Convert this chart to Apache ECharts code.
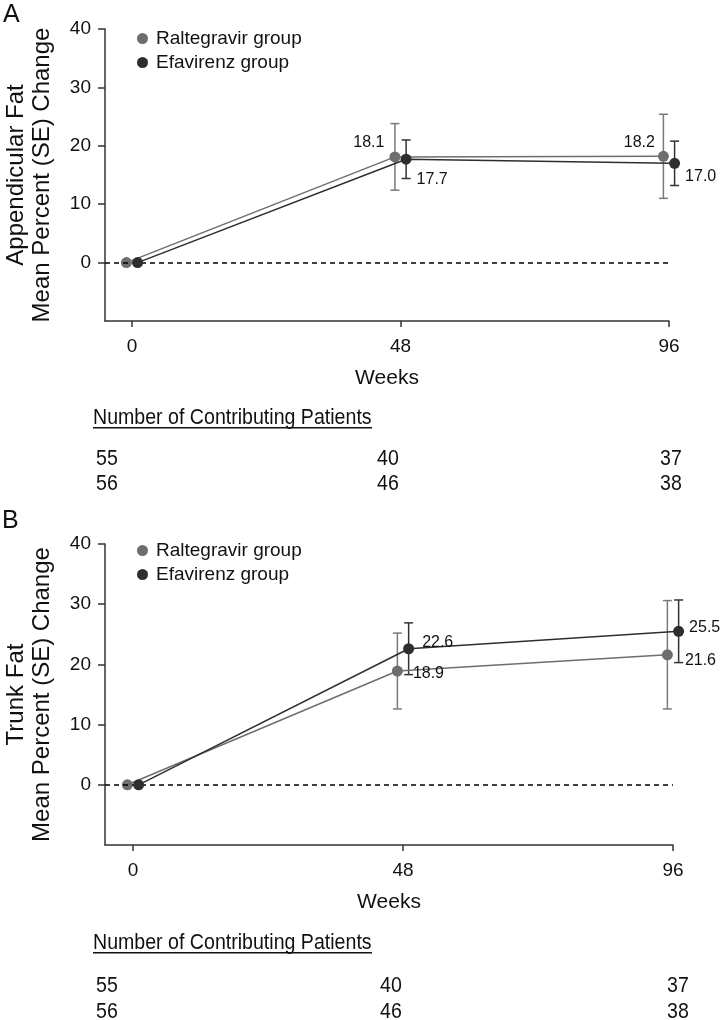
<!DOCTYPE html>
<html><head><meta charset="utf-8">
<script src="https://cdn.jsdelivr.net/npm/echarts@6/dist/echarts.min.js"></script>
<style>html,body{margin:0;padding:0;background:#fff}#c{width:720px;height:1020px}</style>
</head><body><div id="c"></div>
<script>
// ---- data ----
const weeks = [0, 48, 96];
const xTickValues = [0, 48, 96];
const yTickValues = [0, 10, 20, 30, 40];
const seriesNames = ['Raltegravir group', 'Efavirenz group'];
// Panel A: Appendicular fat
const ralA = [0, 18.1, 18.2];
const ralAse = [0, 5.7, 7.2];
const efaA = [0, 17.7, 17.0];
const efaAse = [0, 3.3, 3.8];
// Panel B: Trunk fat
const ralB = [0, 18.9, 21.6];
const ralBse = [0, 6.3, 9.0];
const efaB = [0, 22.6, 25.5];
const efaBse = [0, 4.3, 5.2];
// Number of contributing patients
const nRalA = [55, 40, 37];
const nEfaA = [56, 46, 38];
const nRalB = [55, 40, 37];
const nEfaB = [56, 46, 38];
const tableTitle = 'Number of Contributing Patients';

// ---- style ----
const FONT = '"Liberation Sans", Arial, sans-serif';
const RAL = '#6e6e6e', EFA = '#2e2e2e';
const dodge = 1.0;

// label placements per point (style only)
const lblRalA = [null, {position:'left', distance:5, offset:[0,-14]}, {position:'left', distance:3, offset:[0,-14]}];
const lblEfaA = [null, {position:'right', distance:5, offset:[0,20]}, {position:'right', distance:5, offset:[0,13]}];
const lblRalB = [null, {position:'right', distance:10, offset:[0,3]}, {position:'right', distance:12, offset:[0,6]}];
const lblEfaB = [null, {position:'right', distance:8, offset:[0,-6]}, {position:'right', distance:5, offset:[0,-4]}];

function pts(vals, d, lbls) {
  return vals.map((v, i) => {
    const item = {value: [weeks[i] + d, v]};
    if (lbls[i]) item.label = Object.assign({show: true, formatter: v.toFixed(1)}, lbls[i]);
    return item;
  });
}
function errs(vals, se, d) {
  return vals.map((v, i) => [weeks[i] + d, v - se[i], v + se[i]]).filter((e, i) => se[i] > 0);
}
function errSeries(name, data, color, idx) {
  return {
    type: 'custom', name: name, xAxisIndex: idx, yAxisIndex: idx, z: 3, silent: true, clip: false,
    renderItem: function (params, api) {
      const lo = api.coord([api.value(0), api.value(1)]);
      const hi = api.coord([api.value(0), api.value(2)]);
      const w = 4.5;
      const st = {stroke: color, lineWidth: 1.5};
      return {type: 'group', children: [
        {type: 'line', shape: {x1: lo[0], y1: lo[1], x2: hi[0], y2: hi[1]}, style: st},
        {type: 'line', shape: {x1: lo[0] - w, y1: lo[1], x2: lo[0] + w, y2: lo[1]}, style: st},
        {type: 'line', shape: {x1: hi[0] - w, y1: hi[1], x2: hi[0] + w, y2: hi[1]}, style: st}
      ]};
    },
    data: data
  };
}
function lineSeries(name, data, color, idx, z, withZero) {
  const s = {
    type: 'line', name: name, xAxisIndex: idx, yAxisIndex: idx, z: z, clip: false,
    symbol: 'circle', symbolSize: 11, data: data,
    itemStyle: {color: color}, lineStyle: {color: color, width: 1.5},
    label: {show: false, color: '#111', fontSize: 16, fontFamily: FONT},
    emphasis: {disabled: true}, animation: false
  };
  if (withZero) {
    s.markLine = {silent: true, symbol: ['none', 'none'], label: {show: false},
      lineStyle: {type: [5, 4], color: '#000', width: 1.5}, data: [{yAxis: 0}]};
  }
  return s;
}
function xAx(idx, min) {
  return {type: 'value', gridIndex: idx, min: min, max: 96,
    name: 'Weeks', nameLocation: 'middle', nameGap: 47,
    nameTextStyle: {fontSize: 21, color: '#111', fontFamily: FONT},
    axisLine: {onZero: false, lineStyle: {color: '#333', width: 1.5}},
    axisTick: {show: true, length: 6, customValues: xTickValues, lineStyle: {color: '#333', width: 1.5}},
    axisLabel: {customValues: xTickValues, margin: 16, fontSize: 19, color: '#111', fontFamily: FONT},
    splitLine: {show: false}};
}
function yAx(idx, title) {
  return {type: 'value', gridIndex: idx, min: -10, max: 40,
    name: title, nameLocation: 'middle', nameRotate: 90, nameGap: 50,
    nameTextStyle: {fontSize: 24, lineHeight: 26, color: '#111', fontFamily: FONT, align: 'center'},
    axisLine: {onZero: false, lineStyle: {color: '#333', width: 1.5}},
    axisTick: {show: true, length: 7, customValues: yTickValues, lineStyle: {color: '#333', width: 1.5}},
    axisLabel: {customValues: yTickValues, margin: 14, fontSize: 19, color: '#111', fontFamily: FONT},
    splitLine: {show: false}};
}
function legend(top) {
  return {orient: 'vertical', left: 132, top: top, itemWidth: 11, itemHeight: 11, itemGap: 5, icon: 'circle',
    data: [{name: seriesNames[0], itemStyle: {color: RAL}}, {name: seriesNames[1], itemStyle: {color: EFA}}],
    textStyle: {fontSize: 19, color: '#111', fontFamily: FONT, padding: [0, 0, 0, 3]}, selectedMode: false};
}
const NS = 0.89; // horizontal condensing of table text
function table(titleY, rowY, colX, r1, r2) {
  const g = [];
  g.push({type: 'text', x: 93, y: titleY - 11, scaleX: NS, style: {text: tableTitle, fontSize: 22, fontFamily: FONT, fill: '#111'}});
  g.push({type: 'rect', shape: {x: 93, y: titleY + 9, width: 279, height: 1.5}, style: {fill: '#111'}});
  [r1, r2].forEach((row, ri) => {
    row.forEach((n, ci) => {
      g.push({type: 'text', x: colX[ci], y: rowY[ri] - 10, scaleX: NS, style: {text: String(n), fontSize: 22, fontFamily: FONT, fill: '#111'}});
    });
  });
  return g;
}

const graphics = [
  {type: 'text', left: 3, top: 3, style: {text: 'A', fontSize: 25, fontFamily: FONT, fill: '#111'}},
  {type: 'text', left: 2, top: 509, style: {text: 'B', fontSize: 25, fontFamily: FONT, fill: '#111'}}
].concat(
  table(418, [458, 483], [96, 377, 660], nRalA, nEfaA),
  table(943, [985, 1011], [96, 380, 667], nRalB, nEfaB)
);

const option = {
  animation: false,
  backgroundColor: '#fff',
  grid: [
    {left: 105, right: 51, top: 29, height: 292, outerBoundsMode: 'none', containLabel: false},
    {left: 105, right: 47, top: 544, height: 301, outerBoundsMode: 'none', containLabel: false}
  ],
  xAxis: [xAx(0, -4.83), xAx(1, -4.98)],
  yAxis: [yAx(0, 'Appendicular Fat\nMean Percent (SE) Change'), yAx(1, 'Trunk Fat\nMean Percent (SE) Change')],
  legend: [legend(24), legend(536)],
  graphic: graphics,
  series: [
    errSeries(seriesNames[0], errs(ralA, ralAse, -dodge), '#7a7a7a', 0),
    errSeries(seriesNames[1], errs(efaA, efaAse, dodge), '#333', 0),
    lineSeries(seriesNames[0], pts(ralA, -dodge, lblRalA), RAL, 0, 4, true),
    lineSeries(seriesNames[1], pts(efaA, dodge, lblEfaA), EFA, 0, 5, false),
    errSeries(seriesNames[0], errs(ralB, ralBse, -dodge), '#7a7a7a', 1),
    errSeries(seriesNames[1], errs(efaB, efaBse, dodge), '#333', 1),
    lineSeries(seriesNames[0], pts(ralB, -dodge, lblRalB), RAL, 1, 4, true),
    lineSeries(seriesNames[1], pts(efaB, dodge, lblEfaB), EFA, 1, 5, false)
  ]
};
const chart = echarts.init(document.getElementById('c'), null, {renderer: 'canvas'});
chart.setOption(option);
</script></body></html>
